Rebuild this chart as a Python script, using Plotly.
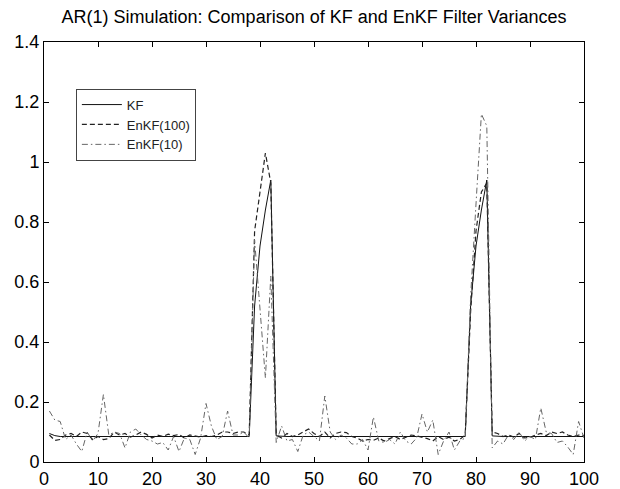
import plotly.graph_objects as go

time_steps = list(range(1, 101))

kf_var = [0.095, 0.088, 0.085, 0.085, 0.085, 0.085, 0.085, 0.085, 0.085, 0.085,
          0.085, 0.085, 0.085, 0.085, 0.085, 0.085, 0.085, 0.085, 0.085, 0.085,
          0.085, 0.085, 0.085, 0.085, 0.085, 0.085, 0.085, 0.085, 0.085, 0.085,
          0.085, 0.085, 0.085, 0.085, 0.085, 0.085, 0.085, 0.085, 0.52, 0.72,
          0.84, 0.94, 0.087, 0.085, 0.085, 0.085, 0.085, 0.085, 0.085, 0.085,
          0.085, 0.085, 0.085, 0.085, 0.085, 0.085, 0.085, 0.085, 0.085, 0.085,
          0.085, 0.085, 0.085, 0.085, 0.085, 0.085, 0.085, 0.085, 0.085, 0.085,
          0.085, 0.085, 0.085, 0.085, 0.085, 0.085, 0.085, 0.085, 0.52, 0.72,
          0.84, 0.94, 0.087, 0.085, 0.085, 0.085, 0.085, 0.085, 0.085, 0.085,
          0.085, 0.085, 0.085, 0.085, 0.085, 0.085, 0.085, 0.085, 0.085, 0.085]

enkf100_var = [0.09, 0.072, 0.075, 0.09, 0.095, 0.085, 0.1, 0.095, 0.075, 0.085,
               0.075, 0.078, 0.1, 0.09, 0.095, 0.083, 0.09, 0.1, 0.092, 0.08,
               0.09, 0.085, 0.093, 0.088, 0.092, 0.08, 0.09, 0.086, 0.083, 0.088,
               0.085, 0.09, 0.1, 0.1, 0.095, 0.1, 0.1, 0.09, 0.77, 0.9,
               1.03, 0.93, 0.09, 0.08, 0.095, 0.085, 0.09, 0.1, 0.11, 0.095,
               0.085, 0.1, 0.08, 0.095, 0.1, 0.098, 0.085, 0.08, 0.07, 0.075,
               0.072, 0.08, 0.07, 0.078, 0.085, 0.075, 0.082, 0.09, 0.087, 0.083,
               0.078, 0.07, 0.085, 0.075, 0.083, 0.07, 0.075, 0.09, 0.5, 0.77,
               0.9, 0.93, 0.1, 0.095, 0.085, 0.09, 0.083, 0.095, 0.08, 0.082,
               0.09, 0.095, 0.088, 0.1, 0.095, 0.1, 0.09, 0.085, 0.09, 0.088]

enkf10_var = [0.17, 0.14, 0.135, 0.075, 0.09, 0.06, 0.035, 0.1, 0.07, 0.095,
              0.225, 0.09, 0.1, 0.095, 0.047, 0.1, 0.11, 0.09, 0.075, 0.07,
              0.06, 0.065, 0.04, 0.085, 0.035, 0.08, 0.075, 0.025, 0.08, 0.195,
              0.12, 0.075, 0.085, 0.17, 0.09, 0.09, 0.1, 0.08, 0.74, 0.5,
              0.28, 0.62, 0.065, 0.12, 0.07, 0.075, 0.035, 0.09, 0.1, 0.085,
              0.07, 0.22, 0.1, 0.075, 0.09, 0.08, 0.06, 0.06, 0.075, 0.04,
              0.15, 0.07, 0.065, 0.075, 0.06, 0.1, 0.07, 0.06, 0.08, 0.16,
              0.1, 0.14, 0.025, 0.07, 0.1, 0.04, 0.07, 0.08, 0.55, 0.86,
              1.16, 1.12, 0.047, 0.07, 0.06, 0.09, 0.075, 0.1, 0.07, 0.085,
              0.075, 0.18, 0.1, 0.095, 0.065, 0.07, 0.05, 0.025, 0.135, 0.08]

x_ticks = [0, 10, 20, 30, 40, 50, 60, 70, 80, 90, 100]
y_ticks = [0, 0.2, 0.4, 0.6, 0.8, 1.0, 1.2, 1.4]
y_tick_labels = ["0", "0.2", "0.4", "0.6", "0.8", "1", "1.2", "1.4"]

fig = go.Figure()
fig.add_trace(go.Scatter(x=time_steps, y=kf_var, mode="lines", name="KF",
                         line=dict(color="#111111", width=1)))
fig.add_trace(go.Scatter(x=time_steps, y=enkf100_var, mode="lines", name="EnKF(100)",
                         line=dict(color="#222222", width=1.2, dash="5px,3px")))
fig.add_trace(go.Scatter(x=time_steps, y=enkf10_var, mode="lines", name="EnKF(10)",
                         line=dict(color="#666666", width=1, dash="6px,3px,1.5px,3px")))

axis_common = dict(showline=True, linecolor="black", linewidth=1, mirror="allticks",
                   ticks="inside", ticklen=5, tickcolor="black", showgrid=False,
                   zeroline=False, automargin=False,
                   tickfont=dict(family="Liberation Sans, Arial", size=18, color="black"))

# the page body adds an 8px offset, so the figure is 8px smaller than the window
fig.update_layout(
    width=612, height=481,
    margin=dict(l=36, r=36, t=34, b=27),
    paper_bgcolor="white", plot_bgcolor="white",
    title=dict(text="AR(1) Simulation: Comparison of KF and EnKF Filter Variances",
               x=0.5, xref="paper", xanchor="center", y=1 - 9 / 481, yanchor="middle",
               font=dict(family="Liberation Sans, Arial", size=18, color="black")),
    xaxis=dict(range=[0, 100], tickvals=x_ticks, **axis_common),
    yaxis=dict(range=[0, 1.4], tickvals=y_ticks, ticktext=y_tick_labels, **axis_common),
    legend=dict(x=0.059, y=0.889, xanchor="left", yanchor="top",
                bordercolor="#444444", borderwidth=1, bgcolor="white",
                font=dict(family="Liberation Sans, Arial", size=13, color="#222222"),
                itemwidth=40),
    showlegend=True,
)

fig.write_html("out.html")
